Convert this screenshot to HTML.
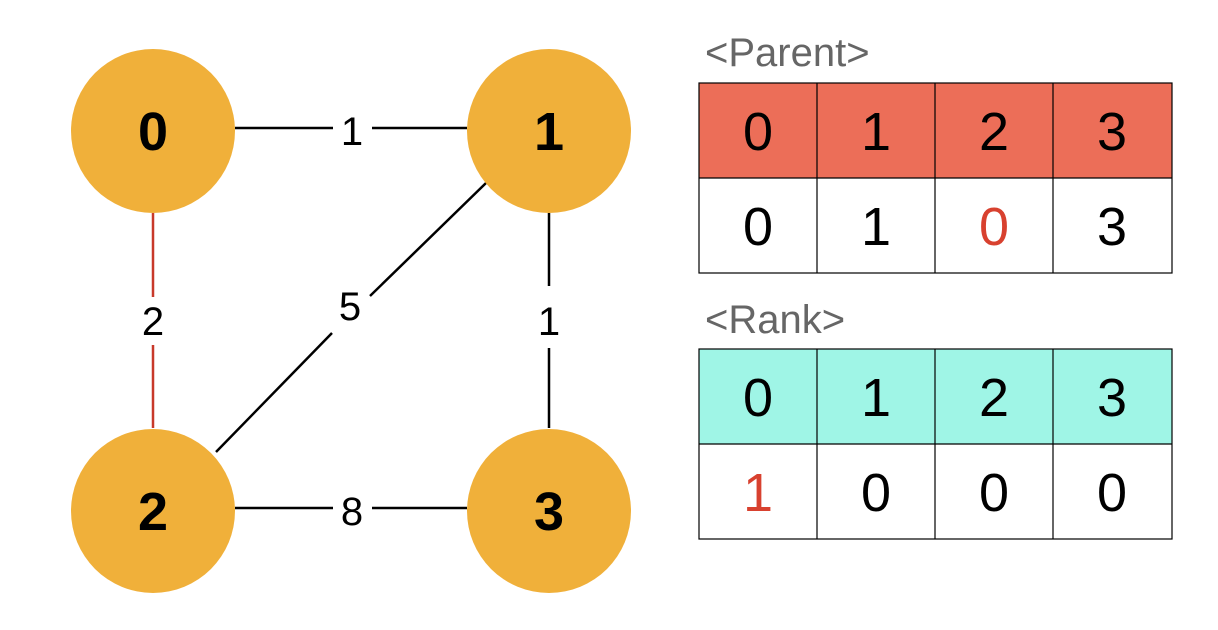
<!DOCTYPE html>
<html><head><meta charset="utf-8"><style>
html,body{margin:0;padding:0;background:#fff;width:1218px;height:630px;overflow:hidden}
</style></head><body>
<svg width="1218" height="630" viewBox="0 0 1218 630" xmlns="http://www.w3.org/2000/svg" font-family="Liberation Sans, Arial, sans-serif">
<g stroke-width="2.5">
<line x1="235" y1="128" x2="333" y2="128" stroke="#000"/>
<line x1="372" y1="128" x2="467" y2="128" stroke="#000"/>
<line x1="235" y1="508" x2="333" y2="508" stroke="#000"/>
<line x1="372" y1="508" x2="467" y2="508" stroke="#000"/>
<line x1="153" y1="213" x2="153" y2="297" stroke="#c8392a"/>
<line x1="153" y1="345" x2="153" y2="428" stroke="#c8392a"/>
<line x1="549" y1="213" x2="549" y2="286" stroke="#000"/>
<line x1="549" y1="348" x2="549" y2="428" stroke="#000"/>
<line x1="486" y1="183" x2="370" y2="296" stroke="#000"/>
<line x1="332" y1="333" x2="216" y2="452" stroke="#000"/>
</g>
<g fill="#f0b03a">
<circle cx="153" cy="131" r="82"/><circle cx="549" cy="131" r="82"/>
<circle cx="153" cy="511" r="82"/><circle cx="549" cy="511" r="82"/>
</g>
<g font-size="54" font-weight="bold" text-anchor="middle" fill="#000">
<text x="153" y="150">0</text><text x="549" y="150">1</text>
<text x="153" y="530">2</text><text x="549" y="530">3</text>
</g>
<g font-size="40" text-anchor="middle" fill="#000">
<text x="352" y="145">1</text><text x="352" y="525">8</text>
<text x="153" y="335">2</text><text x="549" y="335">1</text>
<text x="350" y="320">5</text>
</g>
<g font-size="40" fill="#666">
<text x="705" y="66">&lt;Parent&gt;</text>
<text x="705" y="333">&lt;Rank&gt;</text>
</g>
<rect x="699" y="83" width="473" height="95" fill="#ec6e58"/>
<rect x="699" y="349" width="473" height="95" fill="#9ff5e6"/>
<g stroke="#000" stroke-width="1.2" fill="none">
<rect x="699" y="83" width="473" height="190"/>
<line x1="699" y1="178" x2="1172" y2="178"/>
<line x1="817" y1="83" x2="817" y2="273"/><line x1="935" y1="83" x2="935" y2="273"/><line x1="1053" y1="83" x2="1053" y2="273"/>
<rect x="699" y="349" width="473" height="190"/>
<line x1="699" y1="444" x2="1172" y2="444"/>
<line x1="817" y1="349" x2="817" y2="539"/><line x1="935" y1="349" x2="935" y2="539"/><line x1="1053" y1="349" x2="1053" y2="539"/>
</g>
<g font-size="54" text-anchor="middle" fill="#000">
<text x="758" y="150">0</text><text x="876" y="150">1</text><text x="994" y="150">2</text><text x="1112" y="150">3</text>
<text x="758" y="245">0</text><text x="876" y="245">1</text><text x="994" y="245" fill="#d8412f">0</text><text x="1112" y="245">3</text>
<text x="758" y="416">0</text><text x="876" y="416">1</text><text x="994" y="416">2</text><text x="1112" y="416">3</text>
<text x="758" y="511" fill="#d8412f">1</text><text x="876" y="511">0</text><text x="994" y="511">0</text><text x="1112" y="511">0</text>
</g>
</svg>
</body></html>
